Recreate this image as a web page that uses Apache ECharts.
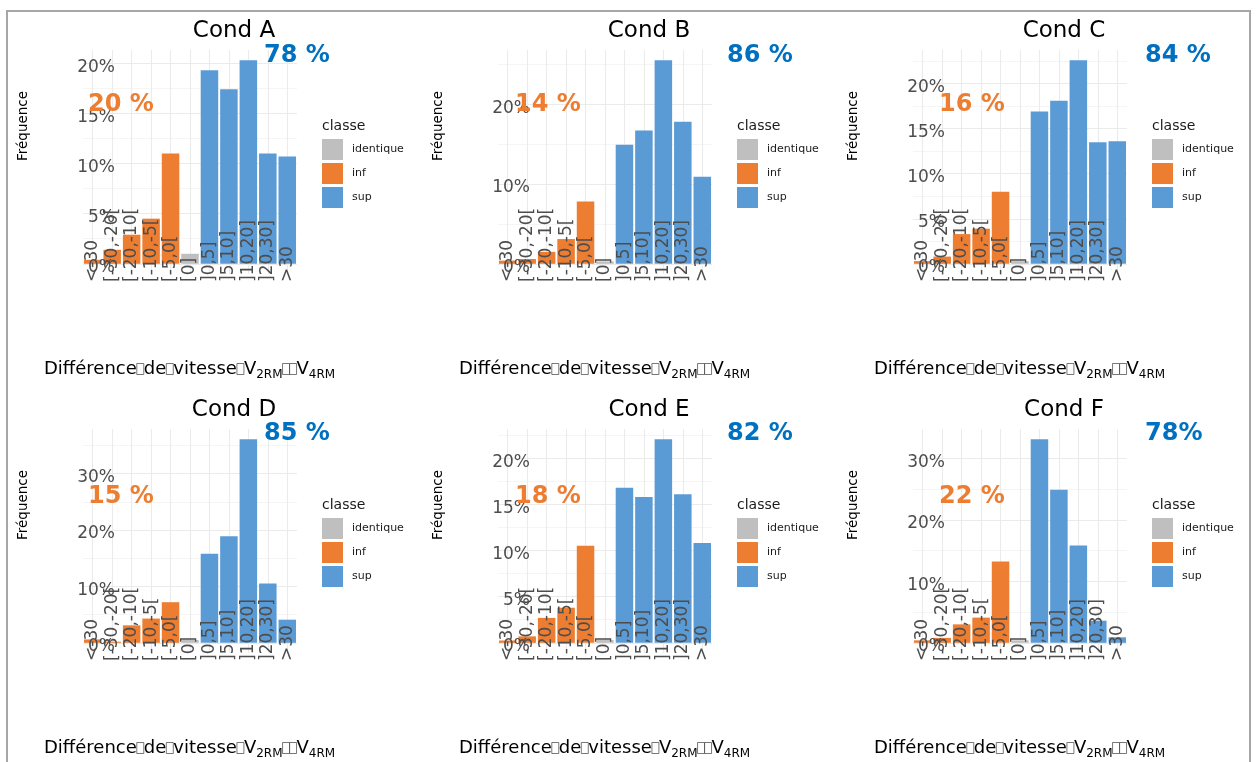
<!DOCTYPE html>
<html>
<head>
<meta charset="utf-8">
<script src="https://cdn.jsdelivr.net/npm/echarts@6/dist/echarts.min.js"></script>
<style>
  html, body { margin: 0; padding: 0; background: #ffffff; }
  #chart { width: 1256px; height: 762px; }
</style>
</head>
<body>
<div id="chart"></div>
<script>
// Speed-difference classes (V2RM - V4RM) and the class each one belongs to
const categories = ['<-30', '[-30,-20[', '[-20,-10[', '[-10,-5[', '[-5,0[', '[0]', ']0,5]', ']5,10]', ']10,20]', ']20,30]', '>30'];
const classes = ['inf', 'inf', 'inf', 'inf', 'inf', 'identique', 'sup', 'sup', 'sup', 'sup', 'sup'];
const classNames = ['identique', 'inf', 'sup'];
const conditions = ['Cond A', 'Cond B', 'Cond C', 'Cond D', 'Cond E', 'Cond F'];

// Frequencies (%) per class, one list per condition
const freqA = [0.4, 1.4, 2.9, 4.5, 11.0, 1.0, 19.3, 17.4, 20.3, 11.0, 10.7];
const freqB = [0.4, 0.6, 1.5, 3.1, 7.8, 0.3, 14.9, 16.7, 25.5, 17.8, 10.9];
const freqC = [0.3, 0.8, 3.3, 3.9, 8.0, 0.3, 16.9, 18.1, 22.6, 13.5, 13.6];
const freqD = [0.6, 0.2, 3.1, 4.3, 7.2, 0.5, 15.8, 18.9, 36.1, 10.5, 4.1];
const freqE = [0.25, 0.7, 2.7, 3.8, 10.5, 0.3, 16.8, 15.8, 22.05, 16.1, 10.8];
const freqF = [0.4, 0.8, 3.0, 4.1, 13.2, 0.4, 33.1, 24.9, 15.8, 3.6, 0.9];

// Share of "inf" and "sup" written on each panel
const infShares = ['20 %', '14 %', '16 %', '15 %', '18 %', '22 %'];
const supShares = ['78 %', '86 %', '84 %', '85 %', '82 %', '78%'];

// Y tick step (%) per panel
const tickSteps = [5, 10, 5, 10, 5, 10];

const panels = [freqA, freqB, freqC, freqD, freqE, freqF];

// ---- layout ----
const FONT = 'DejaVu Sans';
const COL_X = [0, 415, 830];
const ROW_Y = [0, 379];
const PLOT = { left: 83, top: 50, width: 214, height: 224 };
const COLORS = { identique: '#BFBFBF', inf: '#ED7D31', sup: '#5B9BD5' };
const GRID_MAJOR = { color: '#EBEBEB', width: 1.1, type: 'solid' };
const GRID_MINOR = { color: '#F3F3F3', width: 0.8, type: 'solid' };
const INF_POS = [[88, 105], [515, 105], [939, 105], [88, 497], [515, 497], [939, 497]];
const SUP_POS = [[264, 56], [727, 56], [1145, 56], [264, 434], [727, 434], [1145, 434]];

const grids = [], xAxes = [], yAxes = [], series = [], legends = [];
const graphics = [];

// outer frame
graphics.push({
  type: 'rect', silent: true, z: 0,
  shape: { x: 7, y: 11, width: 1243, height: 800 },
  style: { fill: 'none', stroke: '#A6A6A6', lineWidth: 2 }
});

panels.forEach((freq, p) => {
  const col = p % 3, row = Math.floor(p / 3);
  const dx = COL_X[col], dy = ROW_Y[row];
  const top = Math.max(...freq);
  const step = tickSteps[p];
  const yMin = -0.05 * top, yMax = 1.05 * top;

  const majors = [], minors = [];
  for (let v = 0; v <= yMax; v += step) majors.push(v);
  for (let v = step / 2; v <= yMax; v += step) minors.push(v);

  grids.push({
    left: PLOT.left + dx, top: PLOT.top + dy, width: PLOT.width, height: PLOT.height,
    containLabel: false, outerBoundsMode: 'none'
  });

  xAxes.push({
    gridIndex: p, type: 'category', data: categories, boundaryGap: true, z: 6,
    axisLine: { show: false, onZero: false }, axisTick: { show: false }, splitLine: { show: false },
    axisLabel: {
      interval: 0, rotate: 90, align: 'left', verticalAlign: 'middle', margin: 8,
      fontSize: 17, fontFamily: FONT, color: '#4D4D4D', hideOverlap: false
    }
  });

  yAxes.push({
    gridIndex: p, type: 'value', min: yMin, max: yMax, z: 6,
    axisLine: { show: false }, axisTick: { show: false }, splitLine: { show: false },
    axisLabel: {
      customValues: majors, formatter: v => Math.round(v) + '%',
      margin: -32, verticalAlign: 'top', lineHeight: 8,
      fontSize: 17, fontFamily: FONT, color: '#4D4D4D'
    }
  });

  // panel grid lines (behind the bars)
  const lines = [];
  majors.forEach(v => lines.push({ yAxis: v, lineStyle: GRID_MAJOR }));
  minors.forEach(v => lines.push({ yAxis: v, lineStyle: GRID_MINOR }));
  categories.forEach((c, i) => lines.push({ xAxis: i, lineStyle: GRID_MAJOR }));

  classNames.forEach((name, k) => {
    const s = {
      name, type: 'bar', xAxisIndex: p, yAxisIndex: p, stack: 'panel' + p,
      barCategoryGap: '10%', z: 3,
      itemStyle: { color: COLORS[name] },
      emphasis: { disabled: true },
      data: freq.map((v, i) => classes[i] === name ? v : '-'),
      animation: false
    };
    if (k === 0) {
      s.markLine = {
        silent: true, z: 1, symbol: ['none', 'none'], animation: false,
        label: { show: false }, emphasis: { disabled: true },
        data: lines
      };
    }
    series.push(s);
  });

  legends.push({
    left: 322 + dx, top: 139 + dy, orient: 'vertical', padding: 0,
    itemWidth: 21, itemHeight: 21, itemGap: 3, icon: 'rect', selectedMode: false,
    data: classNames,
    textStyle: { fontSize: 11, fontFamily: FONT, color: '#1A1A1A', padding: [0, 0, 0, 4] }
  });

  // panel title
  graphics.push({
    type: 'text', x: 234 + dx, y: 31 + dy, silent: true, z: 10,
    style: { text: conditions[p], fontSize: 23, fontFamily: FONT, fill: '#000', align: 'center', verticalAlign: 'middle' }
  });
  // legend title
  graphics.push({
    type: 'text', x: 322 + dx, y: 126 + dy, silent: true, z: 10,
    style: { text: 'classe', fontSize: 14, fontFamily: FONT, fill: '#1A1A1A', align: 'left', verticalAlign: 'middle' }
  });
  // y axis title
  graphics.push({
    type: 'text', x: 23 + dx, y: 126 + dy, rotation: Math.PI / 2, silent: true, z: 10,
    style: { text: 'Fréquence', fontSize: 13.5, fontFamily: FONT, fill: '#000', align: 'center', verticalAlign: 'middle' }
  });
  // x axis title
  graphics.push({
    type: 'text', x: 44 + dx, y: 369 + dy, silent: true, z: 10,
    style: {
      text: 'Différence{b| }de{b| }vitesse{b| }V{s|2RM}{b| }{b| }V{s|4RM}',
      fontSize: 18, fontFamily: FONT, fill: '#000', lineHeight: 24,
      align: 'left', verticalAlign: 'middle',
      rich: {
        s: { fontSize: 12, fontFamily: FONT, fill: '#000', lineHeight: 12, verticalAlign: 'bottom' },
        b: { width: 7, height: 11, lineHeight: 11, fontSize: 10, borderColor: '#555', borderWidth: 0.8, verticalAlign: 'middle' }
      }
    }
  });
  // class shares
  graphics.push({
    type: 'text', x: INF_POS[p][0], y: INF_POS[p][1], silent: true, z: 20,
    style: { text: infShares[p], fontSize: 24, fontWeight: 'bold', fontFamily: FONT, fill: '#ED7D31', align: 'left', verticalAlign: 'middle' }
  });
  graphics.push({
    type: 'text', x: SUP_POS[p][0], y: SUP_POS[p][1], silent: true, z: 20,
    style: { text: supShares[p], fontSize: 24, fontWeight: 'bold', fontFamily: FONT, fill: '#0070C0', align: 'left', verticalAlign: 'middle' }
  });
});

const chart = echarts.init(document.getElementById('chart'), null, { renderer: 'canvas' });
chart.setOption({
  backgroundColor: '#ffffff',
  animation: false,
  grid: grids,
  xAxis: xAxes,
  yAxis: yAxes,
  legend: legends,
  series: series,
  graphic: graphics
});
</script>
</body>
</html>
